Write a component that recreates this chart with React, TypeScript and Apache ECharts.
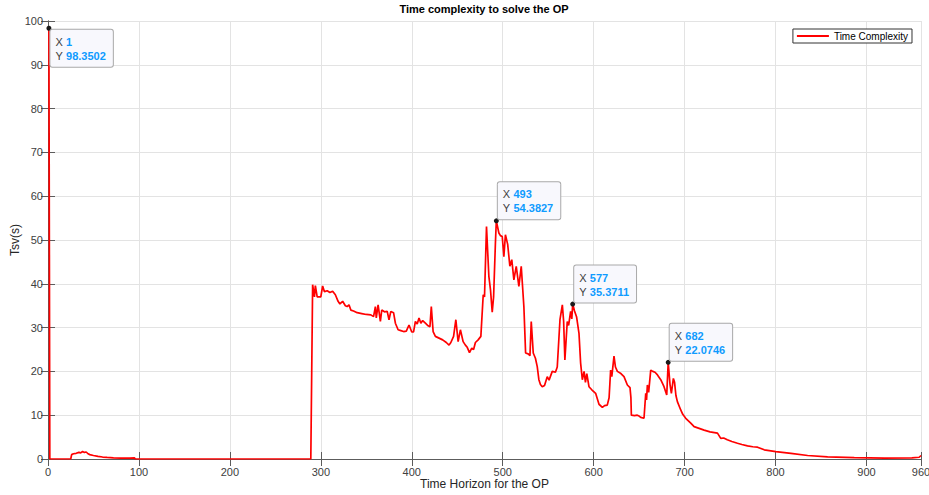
import React, { useEffect, useRef } from "react";
import * as echarts from "echarts";

const xValues: number[] = [
  1, 2, 25, 26, 28, 31, 34, 36, 38, 40, 42, 44, 46, 50, 55, 60, 65, 72, 80, 90, 95, 96,
  289, 291, 293, 294, 296, 300, 302, 304, 307, 310, 313, 316, 319, 321, 324, 327, 329, 331, 333, 336,
  340, 345, 350, 355, 358, 360, 361, 363, 365.5, 367, 370, 373, 375, 377, 380, 382, 385, 388, 391, 394,
  397, 400, 402, 404, 406, 408, 410, 412, 415, 418, 420, 421.5, 423.5, 426, 430, 434, 438, 441, 443,
  446, 448.5, 451, 453.5, 456.5, 459, 461, 463.5, 466, 468, 470, 473, 476, 478.6, 480, 482.2, 484.8,
  486.6, 488.5, 490, 492, 493, 495.8, 497.5, 499.5, 501.3, 503, 505.5, 507.9, 510, 512.3, 514.9, 517.8,
  520.4, 523.3, 525.2, 528, 530, 531.4, 533.6, 536, 538, 539.8, 541.5, 543.5, 546, 549, 551, 554.5,
  558, 560, 563, 565.6, 567, 568.4, 571, 572.5, 574.7, 576, 577, 579, 581.3, 583.9, 585.7, 587.6,
  589.5, 591, 592.5, 594.9, 598, 602.2, 605.9, 609.6, 612, 615, 617, 618.7, 620, 622.4, 624, 626.1,
  630, 633.4, 637.1, 640, 641, 641.5, 645, 648, 650, 651.8, 655.4, 657.3, 658.2, 659.1, 660.5, 662.8,
  665, 667.5, 670.2, 673.8, 677.4, 680.4, 682, 684, 685.5, 687.7, 689, 690.5, 692.1, 695.8, 698, 701.3,
  706.8, 710.5, 716, 721.5, 728, 736.2, 739.8, 743, 747, 752, 758.2, 763, 769.2, 775, 780.2, 787.6,
  800.4, 817, 835.3, 857.3, 886.6, 920, 950, 958, 960,
];

const yValues: number[] = [
  98.3502, 0, 0, 1.0, 1.2, 1.3, 1.5, 1.4, 1.7, 1.5, 1.6, 1.2, 1.0, 0.8, 0.6, 0.45, 0.35, 0.25, 0.2, 0.2, 0.25, 0,
  0, 39.8, 37.0, 39.6, 37.0, 37.0, 39.5, 38.2, 38.4, 38.0, 38.3, 37.5, 36.0, 35.4, 36.0, 35.0, 34.8, 35.2, 34.0, 33.8,
  33.4, 33.2, 33.0, 32.9, 32.5, 34.8, 32.2, 35.2, 31.4, 34.0, 33.6, 33.7, 31.8, 33.7, 33.4, 31.0, 29.5, 29.3, 29.1, 29.2,
  30.6, 29.0, 29.0, 31.4, 30.8, 32.2, 31.0, 31.6, 31.0, 30.4, 30.2, 34.8, 29.1, 28.0, 27.6, 27.2, 26.6, 26.0, 26.6,
  28.0, 31.8, 26.8, 29.5, 26.8, 26.0, 25.5, 24.3, 25.3, 25.0, 26.6, 27.2, 28.0, 37.5, 37.0, 53.1, 41.7,
  38.6, 33.5, 37.0, 49.3, 54.3827, 51.6, 51.0, 50.8, 46.2, 51.2, 49.0, 44.0, 45.5, 40.9, 44.0, 39.4,
  44.0, 34.8, 24.2, 24.0, 23.6, 31.4, 24.2, 23.0, 21.1, 18.1, 17.0, 16.5, 16.8, 18.8, 18.0, 20.0,
  19.8, 21.0, 31.8, 35.2, 31.5, 22.6, 31.4, 30.5, 33.7, 32.0, 35.3711, 33.8, 32.4, 28.7, 21.9, 18.1,
  20.0, 17.5, 19.5, 16.5, 15.8, 15.0, 12.5, 11.8, 12.2, 12.3, 14.0, 20.3, 18.8, 23.5, 21.0, 20.0,
  19.5, 18.8, 16.9, 16.3, 14.0, 10.0, 9.9, 10.0, 9.8, 9.5, 9.3, 15.0, 13.5, 16.9, 15.2, 20.3,
  20.0, 19.8, 19.2, 18.1, 16.5, 14.6, 22.0746, 17.0, 15.0, 18.4, 17.5, 14.5, 13.1, 11.2, 10.2, 9.3,
  8.2, 7.4, 7.0, 6.6, 6.2, 5.9, 4.7, 4.8, 4.4, 4.0, 3.6, 3.3, 3.0, 2.8, 2.7, 2.1,
  1.7, 1.3, 0.8, 0.5, 0.3, 0.2, 0.25, 0.4, 0.8,
];

const tipX: number[] = [1, 493, 577, 682];
const tipY: number[] = [98.3502, 54.3827, 35.3711, 22.0746];

const FONT = "'Liberation Sans', Arial, Helvetica, sans-serif";

export default function App() {
  const ref = useRef<HTMLDivElement>(null);

  useEffect(() => {
    if (!ref.current) return;
    const chart = echarts.init(ref.current, undefined, { renderer: "svg" });
    const data = xValues.map((x, i) => [x, yValues[i]]);
    const tips = tipX.map((x, i) => ({
      coord: [x, tipY[i]],
      label: {
        show: true,
        position: i === 0 ? [4, 4] : [4, 1],
        align: "left",
        verticalAlign: i === 0 ? "top" : "bottom",
        formatter: `{k|X} {v|${x}}\n{k|Y} {v|${tipY[i].toFixed(4)}}`,
      },
    }));

    const axisLineColor = "#5c5c5c";
    chart.setOption({
      animation: false,
      backgroundColor: "#ffffff",
      textStyle: { fontFamily: FONT },
      title: {
        text: "Time complexity to solve the OP",
        left: 484,
        textAlign: "center",
        top: 3,
        padding: 0,
        textStyle: { fontSize: 11, fontWeight: "bold", color: "#000000", fontFamily: FONT },
      },
      legend: {
        data: [{ name: "Time Complexity", icon: "rect" }],
        right: 17,
        top: 29,
        padding: [2, 4, 2, 4],
        borderColor: "#333333",
        borderWidth: 1,
        backgroundColor: "#ffffff",
        itemWidth: 32,
        itemHeight: 2,
        itemGap: 3,
        textStyle: { fontSize: 10, color: "#000000", fontFamily: FONT },
      },
      grid: { left: 48, right: 8, top: 21, bottom: 36, containLabel: false, outerBoundsMode: "none" },
      xAxis: [
        {
          type: "value",
          min: 0,
          max: 960,
          interval: 100,
          name: "Time Horizon for the OP",
          nameLocation: "middle",
          nameGap: 19,
          nameMoveOverlap: false,
          nameTextStyle: { fontSize: 12, color: "#262626", fontFamily: FONT },
          axisLine: { show: true, lineStyle: { color: axisLineColor, width: 1 } },
          axisTick: { show: true, inside: true, length: 7, lineStyle: { color: axisLineColor } },
          axisLabel: { fontSize: 11, color: "#404040", margin: 7, fontFamily: FONT },
          splitLine: { show: true, lineStyle: { color: "#e3e3e3", width: 1 } },
        },
        {
          type: "value",
          position: "top",
          min: 0,
          max: 960,
          interval: 100,
          axisLine: { show: true, lineStyle: { color: axisLineColor, width: 1 } },
          axisTick: { show: true, inside: true, length: 7, lineStyle: { color: axisLineColor } },
          axisLabel: { show: false },
          splitLine: { show: false },
        },
      ],
      yAxis: [
        {
          type: "value",
          min: 0,
          max: 100,
          interval: 10,
          name: "Tsv(s)",
          nameLocation: "middle",
          nameGap: 27,
          nameMoveOverlap: false,
          nameTextStyle: { fontSize: 12, color: "#262626", fontFamily: FONT },
          axisLine: { show: true, lineStyle: { color: axisLineColor, width: 1 } },
          axisTick: { show: true, inside: true, length: 7, lineStyle: { color: axisLineColor } },
          axisLabel: { fontSize: 11, color: "#404040", margin: 5, fontFamily: FONT },
          splitLine: { show: true, lineStyle: { color: "#e3e3e3", width: 1 } },
        },
        {
          type: "value",
          position: "right",
          min: 0,
          max: 100,
          interval: 10,
          axisLine: { show: true, lineStyle: { color: axisLineColor, width: 1 } },
          axisTick: { show: true, inside: true, length: 7, lineStyle: { color: axisLineColor } },
          axisLabel: { show: false },
          splitLine: { show: false },
        },
      ],
      series: [
        {
          name: "Time Complexity",
          type: "line",
          xAxisIndex: 0,
          yAxisIndex: 0,
          data,
          showSymbol: false,
          symbol: "none",
          lineStyle: { color: "#ff0000", width: 1.7 },
          itemStyle: { color: "#ff0000" },
          markPoint: {
            symbol: "circle",
            symbolSize: 5,
            itemStyle: { color: "#1a1a1a" },
            label: {
              backgroundColor: "#f8f8fd",
              borderColor: "#a9a9a9",
              borderWidth: 1,
              borderRadius: 2,
              padding: [5, 7, 4, 5],
              rich: {
                k: { color: "#404040", fontSize: 11, lineHeight: 14, fontFamily: FONT },
                v: { color: "#0f9bff", fontSize: 11, lineHeight: 14, fontWeight: "bold", fontFamily: FONT },
              },
            },
            data: tips,
          },
        },
      ],
    });
    return () => chart.dispose();
  }, []);

  return <div ref={ref} style={{ width: 929, height: 495, position: "absolute", left: 0, top: 0 }} />;
}
